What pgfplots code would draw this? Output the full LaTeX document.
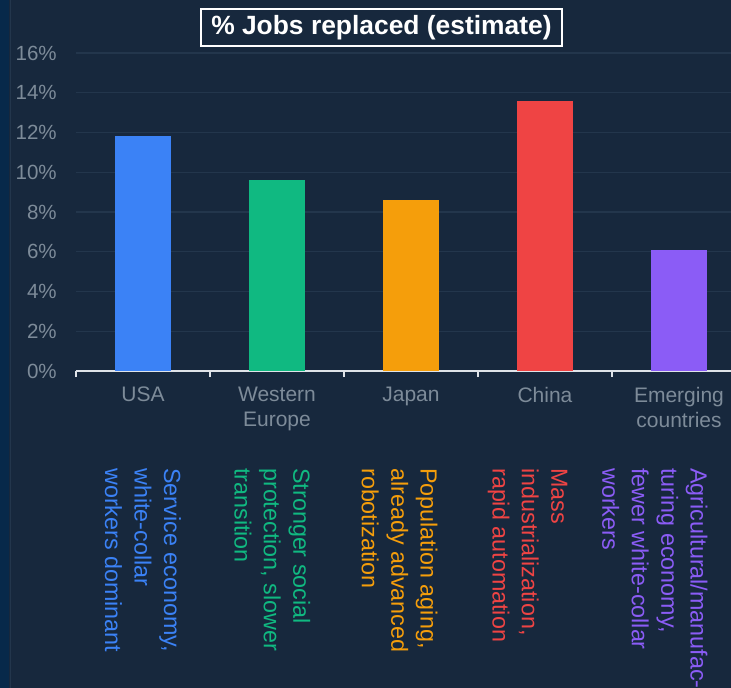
\documentclass[border=0pt]{standalone}
\usepackage{fontspec}
\setmainfont{Liberation Sans}
\usepackage{pgfplots}
\pgfplotsset{compat=1.18}
\definecolor{bg}{HTML}{17283D}
\definecolor{strip}{HTML}{07294A}
\definecolor{gridc}{HTML}{23364C}
\definecolor{tickc}{HTML}{7D8B99}
\definecolor{axisc}{HTML}{DFE3E8}
\definecolor{cusa}{HTML}{3B82F6}
\definecolor{ceu}{HTML}{10B981}
\definecolor{cjp}{HTML}{F59E0B}
\definecolor{ccn}{HTML}{EF4444}
\definecolor{cem}{HTML}{8B5CF6}
\begin{document}
\begin{tikzpicture}
\useasboundingbox (0,0) rectangle (548.25pt,-516pt);
\clip (0,0) rectangle (548.25pt,-516pt);
\fill[bg] (0,0) rectangle (548.25pt,-516pt);
\fill[strip] (0,0) rectangle (6.75pt,-516pt);
\draw[gridc, line width=0.75pt] (7.5pt,0) -- (7.5pt,-516pt);
% title
\draw[white, line width=1.3pt] (150.75pt,-6.75pt) rectangle (421.5pt,-34.5pt);
\node[text=white, font=\bfseries\fontsize{19.8}{23}\selectfont, anchor=center, inner sep=0pt] at (286.1pt,-20.8pt) {\% Jobs replaced (estimate)};
\begin{axis}[
  at={(57pt,-278.25pt)}, anchor=south west,
  scale only axis, width=502.5pt, height=238.5pt,
  xmin=-0.5, xmax=4.5, ymin=0, ymax=16,
  clip=false,
  axis x line*=bottom, axis y line*=left,
  x axis line style={-, draw=axisc, line width=1.5pt},
  y axis line style={draw=none},
  tick align=outside,
  major tick length=4.5pt,
  xtick={-0.5,0.5,1.5,2.5,3.5,4.5},
  xticklabels={},
  x tick style={draw=axisc, line width=1.2pt},
  extra x ticks={0,1,2,3,4},
  extra x tick labels={USA,{Western\\Europe},Japan,China,{Emerging\\countries}},
  extra x tick style={major tick length=0pt, x tick style={draw=none}},
  xticklabel style={align=center, text=tickc, inner sep=0pt, anchor=north, yshift=-12pt, font=\fontsize{15.75}{18.75}\selectfont},
  ytick={0,2,...,16},
  yticklabels={0\%,2\%,4\%,6\%,8\%,10\%,12\%,14\%,16\%},
  y tick style={draw=none},
  yticklabel style={text=tickc, inner sep=0pt, anchor=east, xshift=-9.75pt, font=\fontsize{15.4}{18}\selectfont},
  ymajorgrids, grid style={gridc, line width=0.9pt},
  axis background/.style={fill=none},
]
\addplot[ybar, bar width=42pt, bar shift=0pt, fill=cusa, draw=none] coordinates {(0,11.8)};
\addplot[ybar, bar width=42pt, bar shift=0pt, fill=ceu, draw=none] coordinates {(1,9.6)};
\addplot[ybar, bar width=42pt, bar shift=0pt, fill=cjp, draw=none] coordinates {(2,8.6)};
\addplot[ybar, bar width=42pt, bar shift=0pt, fill=ccn, draw=none] coordinates {(3,13.6)};
\addplot[ybar, bar width=42pt, bar shift=0pt, fill=cem, draw=none] coordinates {(4,6.1)};
\begin{scope}[every node/.style={rotate=-90, anchor=west, align=left, inner sep=0pt, font=\fontsize{17.5}{22.1}\selectfont}]
\node[text=cusa] at (axis cs:0,-4.88) {Service economy,\\white-collar\\workers dominant};
\node[text=ceu] at (axis cs:0.965,-4.88) {Stronger social\\protection, slower\\transition};
\node[text=cjp] at (axis cs:1.915,-4.88) {Population aging,\\already advanced\\robotization};
\node[text=ccn] at (axis cs:2.87,-4.88) {Mass\\industrialization,\\rapid automation};
\node[text=cem] at (axis cs:3.82,-4.88) {Agricultural/manufac-\\turing economy,\\fewer white-collar\\workers};
\end{scope}
\end{axis}
\end{tikzpicture}
\end{document}
